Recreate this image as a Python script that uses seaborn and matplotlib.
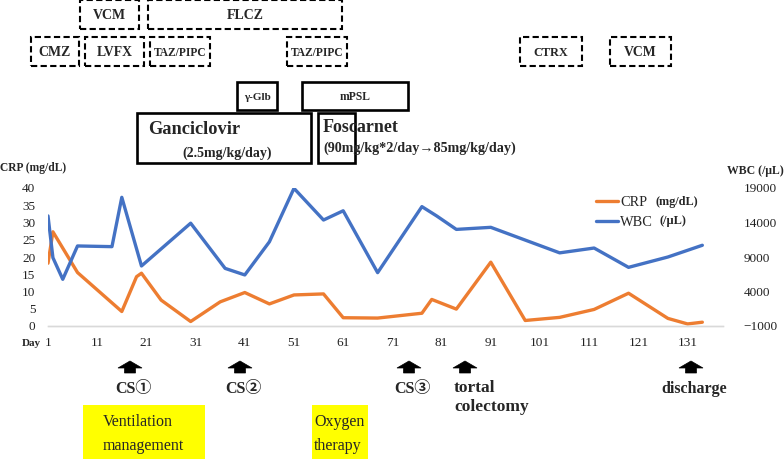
import numpy as np
import pandas as pd
import seaborn as sns
import matplotlib.pyplot as plt
from matplotlib.patches import Rectangle, Polygon
from matplotlib.lines import Line2D

sns.set_theme(style="white")
plt.rcParams['font.family'] = ['Liberation Serif', 'Noto Sans CJK JP', 'DejaVu Sans']

# CRP (mg/dL) by hospital day
crp_days = [1, 2, 7, 16, 19, 20, 24, 30, 36, 41, 46, 51, 57, 61, 68, 77, 79, 84, 91,
            98, 105, 112, 119, 127, 131, 134]
crp_vals = [18.2, 27.3, 15.5, 4.2, 14.3, 15.3, 7.5, 1.3, 7.0, 9.7, 6.4, 9.0, 9.3, 2.4,
            2.3, 3.7, 7.7, 4.9, 18.5, 1.6, 2.5, 4.8, 9.5, 2.2, 0.6, 1.1]

# WBC (/uL) by hospital day
wbc_days = [1, 2, 4, 7, 14, 16, 20, 30, 37, 41, 46, 51, 57, 61, 68, 77, 80, 84, 91,
            105, 112, 119, 127, 134]
wbc_vals = [14950, 8900, 5770, 10600, 10500, 17650, 7700, 13900, 7350, 6400, 11200,
            18950, 14360, 15700, 6730, 16300, 14950, 13000, 13300, 9600, 10300, 7500,
            9000, 10700]

day_ticks = list(range(1, 132, 10))
crp_ticks = list(range(0, 41, 5))
wbc_ticks = [-1000, 4000, 9000, 14000, 19000]

crp_df = pd.DataFrame({"day": crp_days, "CRP": crp_vals})
wbc_df = pd.DataFrame({"day": wbc_days, "WBC": wbc_vals})

orange = '#ED7D31'
blue = '#4472C4'

W, H = 784, 459
fig = plt.figure(figsize=(W / 100, H / 100), dpi=100)


def fx(x):
    return x / W


def fy(y):
    return 1 - y / H


ax = fig.add_axes([fx(48), fy(326), (723 - 48) / W, (326 - 188) / H])
ax2 = ax.twinx()

sns.lineplot(data=crp_df, x="day", y="CRP", ax=ax, color=orange, lw=2.4)
sns.lineplot(data=wbc_df, x="day", y="WBC", ax=ax2, color=blue, lw=2.4)

ax.set_xlim(1, 138.2)
ax.set_ylim(0, 40)
ax2.set_ylim(-1000, 19000)
ax.set_xticks(day_ticks)
ax.set_xticklabels([str(d) for d in day_ticks])
ax.set_yticks(crp_ticks)
ax2.set_yticks(wbc_ticks)
ax.set_xlabel("")
ax.set_ylabel("")
ax2.set_ylabel("")
ax.tick_params(axis='both', length=0, labelsize=9.5, colors='#222222')
ax.tick_params(axis='y', pad=9)
ax.tick_params(axis='x', pad=8)
ax2.tick_params(axis='y', length=0, labelsize=9.5, pad=15, colors='#222222')
for a in (ax, ax2):
    for s in ['top', 'left', 'right']:
        a.spines[s].set_visible(False)
    a.spines['bottom'].set_color('#D9D9D9')
    a.spines['bottom'].set_linewidth(1)
    a.grid(False)

# legend
handles = [Line2D([], [], color=orange, lw=2.4), Line2D([], [], color=blue, lw=2.4)]
leg = ax2.legend(handles, ["CRP", "WBC"], loc='upper left', frameon=False,
                 bbox_to_anchor=(fx(596), fy(196)), bbox_transform=fig.transFigure,
                 handlelength=1.55, handletextpad=0.12, labelspacing=0.45,
                 borderpad=0, borderaxespad=0, prop={'size': 10.4})
fig.text(fx(656), fy(202), "(mg/dL)", fontsize=8.8, fontweight='bold', va='center')
fig.text(fx(659), fy(221), "(/\u03bcL)", fontsize=8.9, fontweight='bold', va='center')

# axis titles
fig.text(fx(0), fy(168), "CRP (mg/dL)", fontsize=8.3, fontweight='bold', va='center')
fig.text(fx(727), fy(171), "WBC (/\u03bcL)", fontsize=8.5, fontweight='bold', va='center')
fig.text(fx(22), fy(343), "Day", fontsize=8, fontweight='bold', va='center')

# treatment boxes: (x0, y0, x1, y1, label, fontsize, dashed)
boxes = [
    (80, 0, 139, 29, "VCM", 10, True),
    (148, 0, 342, 29, "FLCZ", 10, True),
    (31, 37, 79, 66, "CMZ", 10, True),
    (85, 37, 144, 66, "LVFX", 9.8, True),
    (150, 37, 210, 66, "TAZ/PIPC", 8.3, True),
    (287, 37, 347, 66, "TAZ/PIPC", 8.3, True),
    (520, 37, 582, 66, "CTRX", 8.8, True),
    (610, 37, 671, 66, "VCM", 9.9, True),
    (237, 82, 277, 110, "\u03b3-Glb", 8, False),
    (302, 82, 408, 110, "mPSL", 8.4, False),
    (137, 113, 311, 163, None, 0, False),
    (318, 113, 355, 163, None, 0, False),
]
for x0, y0, x1, y1, label, fs, dashed in boxes:
    ls = (0, (3, 1.6)) if dashed else '-'
    lw = 1.5 if dashed else 1.9
    fig.add_artist(Rectangle((fx(x0), fy(y1)), (x1 - x0) / W, (y1 - y0) / H,
                             transform=fig.transFigure, fill=False, ec='black',
                             lw=lw, ls=ls))
    if label:
        fig.text(fx((x0 + x1) / 2), fy((y0 + y1) / 2 + 1), label, fontsize=fs,
                 fontweight='bold', ha='center', va='center')

fig.text(fx(148), fy(129), "Ganciclovir", fontsize=13.2, fontweight='bold', va='center')
fig.text(fx(182), fy(153), "(2.5mg/kg/day)", fontsize=10, fontweight='bold', va='center')
fig.text(fx(323), fy(128), "Foscarnet", fontsize=13, fontweight='bold', va='center')
fig.text(fx(323), fy(148), "(90mg/kg*2/day\u219285mg/kg/day)", fontsize=10.2,
         fontweight='bold', va='center')

# events below the axis
events = [(130, "CS\u2460"), (240, "CS\u2461"), (409, "CS\u2462"),
          (465, "tortal\ncolectomy"), (691, "discharge")]
for x, label in events:
    pts = [(x - 12, 368), (x, 361), (x + 12, 368), (x + 5.5, 368), (x + 5.5, 373),
           (x - 5.5, 373), (x - 5.5, 368)]
    fig.add_artist(Polygon([(fx(px), fy(py)) for px, py in pts], closed=True,
                           transform=fig.transFigure, fc='black', ec='black', lw=0.5))
    if "\n" in label:
        fig.text(fx(454), fy(380), label, fontsize=12.5, fontweight='bold', va='top',
                 linespacing=1.25)
    else:
        fig.text(fx(x + 3), fy(389), label, fontsize=11.5, fontweight='bold',
                 ha='center', va='center')

# yellow boxes
fig.add_artist(Rectangle((fx(83), fy(465)), (205 - 83) / W, 60 / H,
                         transform=fig.transFigure, fc='#FFFF00', ec='none'))
fig.add_artist(Rectangle((fx(312), fy(465)), (368 - 312) / W, 60 / H,
                         transform=fig.transFigure, fc='#FFFF00', ec='none'))
fig.text(fx(103), fy(422), "Ventilation", fontsize=11.5, va='center')
fig.text(fx(103), fy(446), "management", fontsize=11.5, va='center')
fig.text(fx(314), fy(422), "Oxygen", fontsize=11.5, va='center')
fig.text(fx(314), fy(446), "therapy", fontsize=11.5, va='center')

fig.savefig("out.png", dpi=100)
